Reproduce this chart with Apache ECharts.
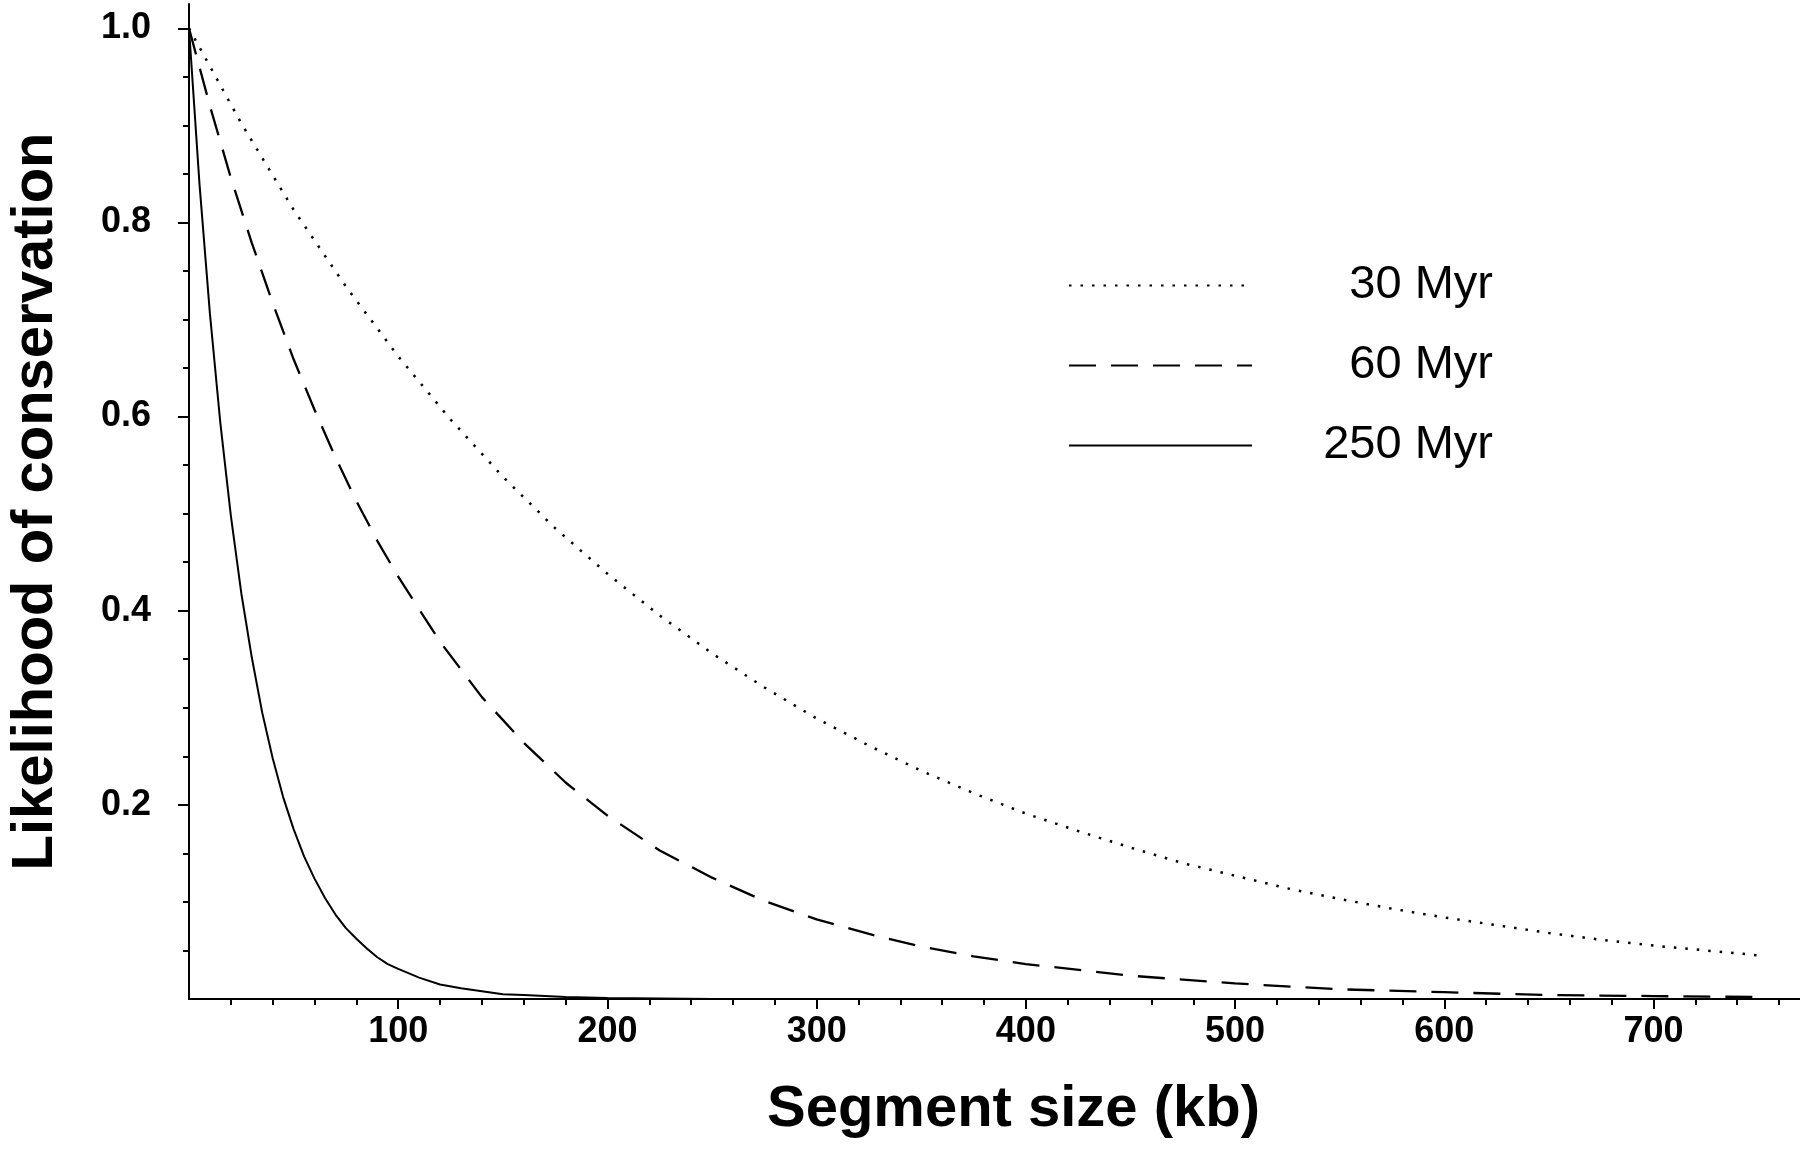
<!DOCTYPE html>
<html>
<head>
<meta charset="utf-8">
<title>Likelihood of conservation</title>
<script src="https://cdn.jsdelivr.net/npm/echarts@6/dist/echarts.min.js"></script>
<style>
html, body { margin: 0; padding: 0; background: #fff; }
#chart { width: 1800px; height: 1153px; }
</style>
</head>
<body>
<div id="chart"></div>
<script>
var sizes30 = [0, 25, 50, 75, 100, 125, 150, 175, 200, 225, 250, 275, 300, 325, 350, 375, 400,
  425, 450, 475, 500, 525, 550, 575, 600, 625, 650, 675, 700, 725, 750]
var myr30 = [1.000, 0.902, 0.813, 0.734, 0.662, 0.597, 0.538, 0.485, 0.438, 0.395, 0.356, 0.321, 0.289,
  0.261, 0.235, 0.212, 0.191, 0.173, 0.156, 0.140, 0.127, 0.114, 0.103, 0.093, 0.084, 0.076, 0.068,
  0.061, 0.055, 0.050, 0.045]

var sizes60 = [0, 10, 20, 30, 40, 50, 60, 70, 80, 90, 100, 120, 140, 160, 180, 200, 225, 250, 275,
  300, 325, 350, 375, 400, 450, 500, 550, 600, 650, 700, 750]
var myr60 = [1.000, 0.920, 0.846, 0.779, 0.717, 0.659, 0.607, 0.558, 0.513, 0.472, 0.435, 0.368, 0.311,
  0.264, 0.223, 0.189, 0.153, 0.125, 0.101, 0.082, 0.067, 0.054, 0.044, 0.036, 0.024, 0.016, 0.010,
  0.007, 0.004, 0.003, 0.002]

var sizes250 = [0, 5, 10, 15, 20, 25, 30, 35, 40, 45, 50, 55, 60, 65, 70, 75, 80, 85, 90, 95, 100,
  110, 120, 130, 140, 150, 160, 170, 180, 200, 250, 300, 400, 500, 600, 700, 750]
var myr250 = [1.000, 0.840, 0.706, 0.593, 0.498, 0.418, 0.352, 0.295, 0.248, 0.208, 0.175, 0.147, 0.124,
  0.104, 0.087, 0.073, 0.062, 0.052, 0.043, 0.036, 0.031, 0.022, 0.015, 0.011, 0.008, 0.005, 0.004,
  0.003, 0.002, 0.001, 0, 0, 0, 0, 0, 0, 0]

var seriesNames = ['30 Myr', '60 Myr', '250 Myr']

// axis ticks and labels
var xMajorTicks = [100, 200, 300, 400, 500, 600, 700]
var xMinorTicks = [20, 40, 60, 80, 100, 120, 140, 160, 180, 200, 220, 240, 260, 280, 300, 320, 340,
  360, 380, 400, 420, 440, 460, 480, 500, 520, 540, 560, 580, 600, 620, 640, 660, 680, 700, 720, 740, 760]
var yMajorTicks = [0.2, 0.4, 0.6, 0.8, 1.0]
var yMinorTicks = [0.05, 0.1, 0.15, 0.2, 0.25, 0.3, 0.35, 0.4, 0.45, 0.5, 0.55, 0.6, 0.65, 0.7, 0.75,
  0.8, 0.85, 0.9, 0.95, 1.0]

var FONT = "'Liberation Sans', Arial, Helvetica, sans-serif"

function pairs(xs, ys) {
  return xs.map(function (x, i) { return [x, ys[i]] })
}

var chart = echarts.init(document.getElementById('chart'), null, { renderer: 'canvas' })

chart.setOption({
  backgroundColor: '#FFFFFF',
  animation: false,
  textStyle: { fontFamily: FONT, color: '#000' },
  grid: {
    left: 189,
    right: 0,
    top: 4,
    bottom: 154,
    containLabel: false,
    outerBoundsMode: 'none'
  },
  legend: {
    data: seriesNames,
    orient: 'vertical',
    left: 1068,
    top: 262,
    padding: 0,
    itemWidth: 183,
    itemHeight: 50,
    itemGap: 33,
    selectedMode: false,
    lineStyle: { width: 2 },
    itemStyle: { opacity: 0, color: 'transparent', borderWidth: 0 },
    formatter: function (name) {
      return '{t|' + name + '}'
    },
    textStyle: {
      fontFamily: FONT,
      fontSize: 47,
      color: '#000',
      rich: {
        t: {
          width: 236,
          align: 'right',
          fontSize: 47,
          lineHeight: 50,
          fontFamily: FONT,
          color: '#000'
        }
      }
    }
  },
  xAxis: [{
    type: 'value',
    position: 'bottom',
    min: 0,
    max: 770,
    name: 'Segment size (kb)',
    nameLocation: 'middle',
    nameGap: 82,
    nameTextStyle: {
      fontFamily: FONT,
      fontSize: 58,
      fontWeight: 'bold',
      color: '#000',
      padding: [0, 0, 0, 38]
    },
    axisLine: { show: true, onZero: false, lineStyle: { color: '#000', width: 2 } },
    axisTick: { show: true, length: 10, customValues: xMajorTicks, lineStyle: { color: '#000', width: 2 } },
    axisLabel: {
      customValues: xMajorTicks,
      margin: 15,
      fontFamily: FONT,
      fontSize: 36,
      fontWeight: 'bold',
      color: '#000'
    },
    splitLine: { show: false }
  }, {
    type: 'value',
    position: 'bottom',
    min: 0,
    max: 770,
    axisLine: { show: false },
    axisTick: { show: true, length: 6, customValues: xMinorTicks, lineStyle: { color: '#000', width: 2 } },
    axisLabel: { show: false },
    splitLine: { show: false }
  }],
  yAxis: [{
    type: 'value',
    position: 'left',
    min: 0,
    max: 1.025,
    name: 'Likelihood of conservation',
    nameLocation: 'middle',
    nameGap: 124,
    nameTextStyle: {
      fontFamily: FONT,
      fontSize: 58,
      fontWeight: 'bold',
      color: '#000'
    },
    axisLine: { show: true, onZero: false, lineStyle: { color: '#000', width: 2 } },
    axisTick: { show: true, length: 11, customValues: yMajorTicks, lineStyle: { color: '#000', width: 2 } },
    axisLabel: {
      customValues: yMajorTicks,
      margin: 38,
      fontFamily: FONT,
      fontSize: 36,
      fontWeight: 'bold',
      color: '#000',
      formatter: function (v) { return v.toFixed(1) }
    },
    splitLine: { show: false }
  }, {
    type: 'value',
    position: 'left',
    min: 0,
    max: 1.025,
    axisLine: { show: false },
    axisTick: { show: true, length: 6, customValues: yMinorTicks, lineStyle: { color: '#000', width: 2 } },
    axisLabel: { show: false },
    splitLine: { show: false }
  }],
  series: [{
    name: seriesNames[0],
    type: 'line',
    symbol: 'none',
    silent: true,
    lineStyle: { color: '#000', width: 2.5, type: [2.5, 9], cap: 'butt' },
    itemStyle: { color: '#000' },
    data: pairs(sizes30, myr30)
  }, {
    name: seriesNames[1],
    type: 'line',
    symbol: 'none',
    silent: true,
    lineStyle: { color: '#000', width: 2.3, type: [27, 15], cap: 'butt' },
    itemStyle: { color: '#000' },
    data: pairs(sizes60, myr60)
  }, {
    name: seriesNames[2],
    type: 'line',
    symbol: 'none',
    silent: true,
    lineStyle: { color: '#000', width: 2, type: 'solid' },
    itemStyle: { color: '#000' },
    data: pairs(sizes250, myr250)
  }]
})
</script>
</body>
</html>
